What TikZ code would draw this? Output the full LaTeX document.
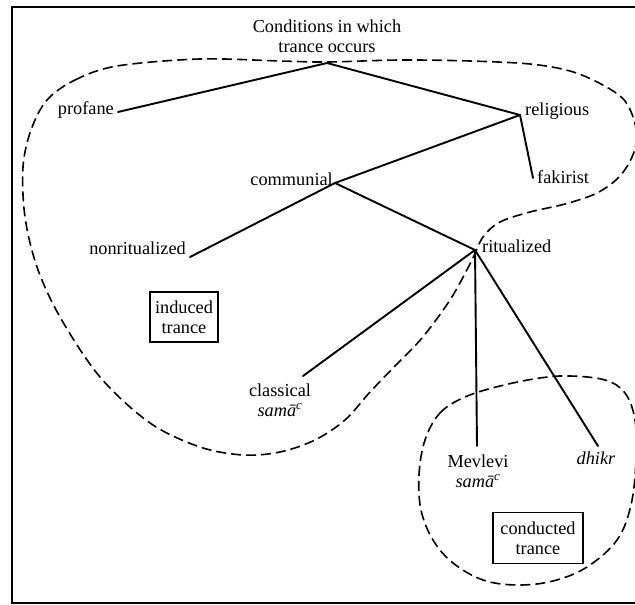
\documentclass[tikz,border=0pt]{standalone}
\usepackage{fontspec}
\setmainfont{Liberation Serif}
\begin{document}
\begin{tikzpicture}[x=1pt,y=-1pt,
  lbl/.style={inner sep=0pt, font=\fontsize{18.3}{20}\selectfont},
  twoline/.style={lbl, align=center},
  branch/.style={line width=1.9pt, line cap=round},
  region/.style={line width=1.6pt, dash pattern=on 10pt off 5pt},
  framebox/.style={draw, line width=1.5pt, inner sep=0pt, align=center,
    font=\fontsize{18.3}{20}\selectfont}]
\useasboundingbox (0,0) rectangle (635,605);
\clip (0,0) rectangle (635,605);
\fill[white] (0,0) rectangle (635,605);
% outer frame
\draw[line width=2pt] (12,7) rectangle (650,603);

% junctions and branch ends
\coordinate (root)  at (327,63);
\coordinate (relJ)  at (520,115);
\coordinate (proE)  at (118,112);
\coordinate (fakE)  at (533,178);
\coordinate (comJ)  at (335,183);
\coordinate (nonE)  at (190,257);
\coordinate (ritJ)  at (475,250);
\coordinate (claE)  at (303,376);
\coordinate (mevE)  at (477,446);
\coordinate (dhiE)  at (598,446);

% tree
\draw[branch] (proE) -- (root) -- (relJ) -- (fakE);
\draw[branch] (relJ) -- (comJ) -- (nonE);
\draw[branch] (comJ) -- (ritJ) -- (claE);
\draw[branch] (ritJ) -- (mevE);
\draw[branch] (ritJ) -- (dhiE);

% labels
\node[twoline] (title) at (327,36) {Conditions in which\\trance occurs};
\node[lbl, anchor=mid east] (profane) at (114,112) {profane};
\node[lbl, anchor=mid west] (religious) at (525,113) {religious};
\node[lbl, anchor=mid west] (fakirist) at (537,181) {fakirist};
\node[lbl, anchor=mid east] (communial) at (333,183) {communial};
\node[lbl, anchor=mid east] (nonrit) at (186,252) {nonritualized};
\node[lbl, anchor=mid west] (ritual) at (482,250) {ritualized};
\node[twoline] (classical) at (280,400) {classical\\\textit{samā}\textsuperscript{\textit{c}}};
\node[twoline] (mevlevi) at (478,471) {Mevlevi\\\textit{samā}\textsuperscript{\textit{c}}};
\node[lbl, anchor=mid] (dhikr) at (596,462) {\textit{dhikr}};

% boxed region names
\node[framebox, minimum width=68pt, minimum height=50pt] (induced) at (184,317) {induced\\trance};
\node[framebox, minimum width=90pt, minimum height=51pt] (conducted) at (538,538) {conducted\\trance};

% region of induced trance
\draw[region] plot[smooth cycle, tension=0.55] coordinates {
  (47,100) (75,80) (117,66) (200,59) (280,61) (327,62) (400,60) (470,61)
  (530,64) (570,71) (601,84) (625,101) (636,128) (634,152) (620,176)
  (597,193) (565,204) (530,212) (500,222) (483,237) (471,262)
  (450,300) (422,338) (395,366) (370,392) (345,420) (315,440)
  (280,452) (243,455) (200,447) (150,423) (100,377) (60,317) (37,267)
  (25,217) (23,167) (31,130)};

% region of conducted trance
\draw[region] plot[smooth cycle, tension=0.6] coordinates {
  (425,440) (440,413) (465,397) (500,386) (540,378) (570,376) (605,380)
  (625,393) (635,420) (636,460) (631,505) (617,540) (587,567) (553,581)
  (517,585) (483,580) (453,563) (433,540) (421,510) (419,475)};
\end{tikzpicture}
\end{document}
